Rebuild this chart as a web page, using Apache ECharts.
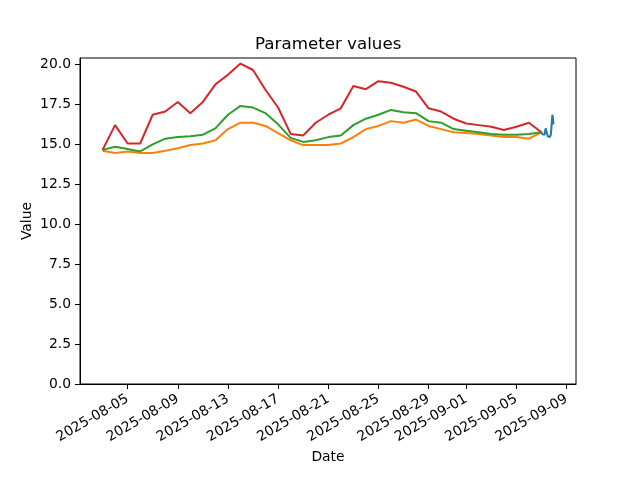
<!DOCTYPE html>
<html><head><meta charset="utf-8">
<script src="https://cdn.jsdelivr.net/npm/echarts@6/dist/echarts.min.js"></script>
<style>html,body{margin:0;padding:0;background:#fff}#c{width:640px;height:480px}</style>
</head><body><div id="c"></div>
<script>
const dailyDates = ['2025-08-03','2025-08-04','2025-08-05','2025-08-06','2025-08-07','2025-08-08','2025-08-09','2025-08-10','2025-08-11','2025-08-12','2025-08-13','2025-08-14','2025-08-15','2025-08-16','2025-08-17','2025-08-18','2025-08-19','2025-08-20','2025-08-21','2025-08-22','2025-08-23','2025-08-24','2025-08-25','2025-08-26','2025-08-27','2025-08-28','2025-08-29','2025-08-30','2025-08-31','2025-09-01','2025-09-02','2025-09-03','2025-09-04','2025-09-05','2025-09-06','2025-09-07'];
const maxValues = [14.65,16.2,15.05,15.05,16.85,17.05,17.65,16.95,17.65,18.75,19.35,20.05,19.65,18.4,17.3,15.65,15.55,16.35,16.85,17.25,18.65,18.45,18.95,18.85,18.6,18.3,17.25,17.05,16.6,16.3,16.2,16.1,15.9,16.1,16.35,15.75];
const meanValues = [14.65,14.85,14.7,14.55,15.0,15.35,15.45,15.5,15.6,16.0,16.85,17.4,17.3,16.95,16.25,15.4,15.15,15.25,15.45,15.55,16.2,16.6,16.85,17.15,17.0,16.95,16.45,16.35,15.95,15.85,15.75,15.65,15.6,15.6,15.65,15.75];
const minValues = [14.6,14.45,14.55,14.45,14.45,14.6,14.75,14.95,15.05,15.25,15.95,16.35,16.35,16.15,15.7,15.25,14.95,14.95,14.95,15.05,15.45,15.95,16.15,16.45,16.35,16.55,16.15,15.95,15.75,15.7,15.65,15.55,15.45,15.45,15.35,15.75];
const hourlyDay = '2025-09-07';
const hourlyValues = [15.77,15.7,15.62,15.55,15.5,15.48,15.6,15.8,16.0,16.1,15.9,15.65,15.5,15.45,15.45,15.5,15.45,15.5,15.6,16.0,16.5,16.85,16.6,16.25];
const xTickDates = ['2025-08-05','2025-08-09','2025-08-13','2025-08-17','2025-08-21','2025-08-25','2025-08-29','2025-09-01','2025-09-05','2025-09-09'];
const yTicks = [0,2.5,5,7.5,10,12.5,15,17.5,20];
const yMax = 20.4;

function ts(d, h){ const p = d.split('-').map(Number); return Date.UTC(p[0], p[1]-1, p[2], h||0); }
function fmt(v){ const d = new Date(v); const p = n => String(n).padStart(2,'0'); return d.getUTCFullYear()+'-'+p(d.getUTCMonth()+1)+'-'+p(d.getUTCDate()); }

const daily = arr => arr.map((v,i) => [ts(dailyDates[i]), v]);
const hourly = hourlyValues.map((v,h) => [ts(hourlyDay, h), v]);
const start = ts(dailyDates[0]);
const end = hourly[hourly.length-1][0];
const span = end - start;
const xMin = start - 0.05*span, xMax = end + 0.05*span;
const tickVals = xTickDates.map(d => ts(d));

const font = 'DejaVu Sans';
const lineSeries = (name, data, color) => ({
  name, type:'line', data, showSymbol:false, symbol:'none',
  lineStyle:{color, width:2}, itemStyle:{color}, animation:false
});

const chart = echarts.init(document.getElementById('c'), null, {renderer:'canvas'});
chart.setOption({
  animation:false,
  backgroundColor:'#fff',
  textStyle:{fontFamily:font},
  title:{text:'Parameter values', left:250, top:31, textStyle:{fontFamily:font, fontSize:16.7, fontWeight:'normal', color:'#000'}},
  grid:{left:80, right:64, top:58, bottom:96, show:true, borderColor:'#000', borderWidth:1, backgroundColor:'transparent'},
  xAxis:{
    type:'value', min:xMin, max:xMax,
    name:'Date', nameLocation:'middle', nameGap:66, nameMoveOverlap:false,
    nameTextStyle:{fontFamily:font, fontSize:13.9, color:'#000'},
    axisLine:{show:true, onZero:false, lineStyle:{color:'#000', width:1}},
    axisTick:{show:true, length:5, lineStyle:{color:'#000'}, customValues:tickVals},
    axisLabel:{rotate:30, margin:14, fontFamily:font, fontSize:13.9, color:'#000', customValues:tickVals, formatter:v => fmt(v)},
    splitLine:{show:false}
  },
  yAxis:{
    type:'value', min:0, max:yMax,
    name:'Value', nameLocation:'middle', nameGap:46, nameMoveOverlap:false,
    nameTextStyle:{fontFamily:font, fontSize:13.9, color:'#000'},
    axisLine:{show:true, lineStyle:{color:'#000', width:1}},
    axisTick:{show:true, length:5, lineStyle:{color:'#000'}, customValues:yTicks},
    axisLabel:{margin:9, fontFamily:font, fontSize:13.9, color:'#000', customValues:yTicks, formatter:v => v.toFixed(1)},
    splitLine:{show:false}
  },
  series:[
    lineSeries('hourly', hourly, '#1f77b4'),
    lineSeries('min', daily(minValues), '#ff7f0e'),
    lineSeries('mean', daily(meanValues), '#2ca02c'),
    lineSeries('max', daily(maxValues), '#d62728')
  ]
});
</script></body></html>
